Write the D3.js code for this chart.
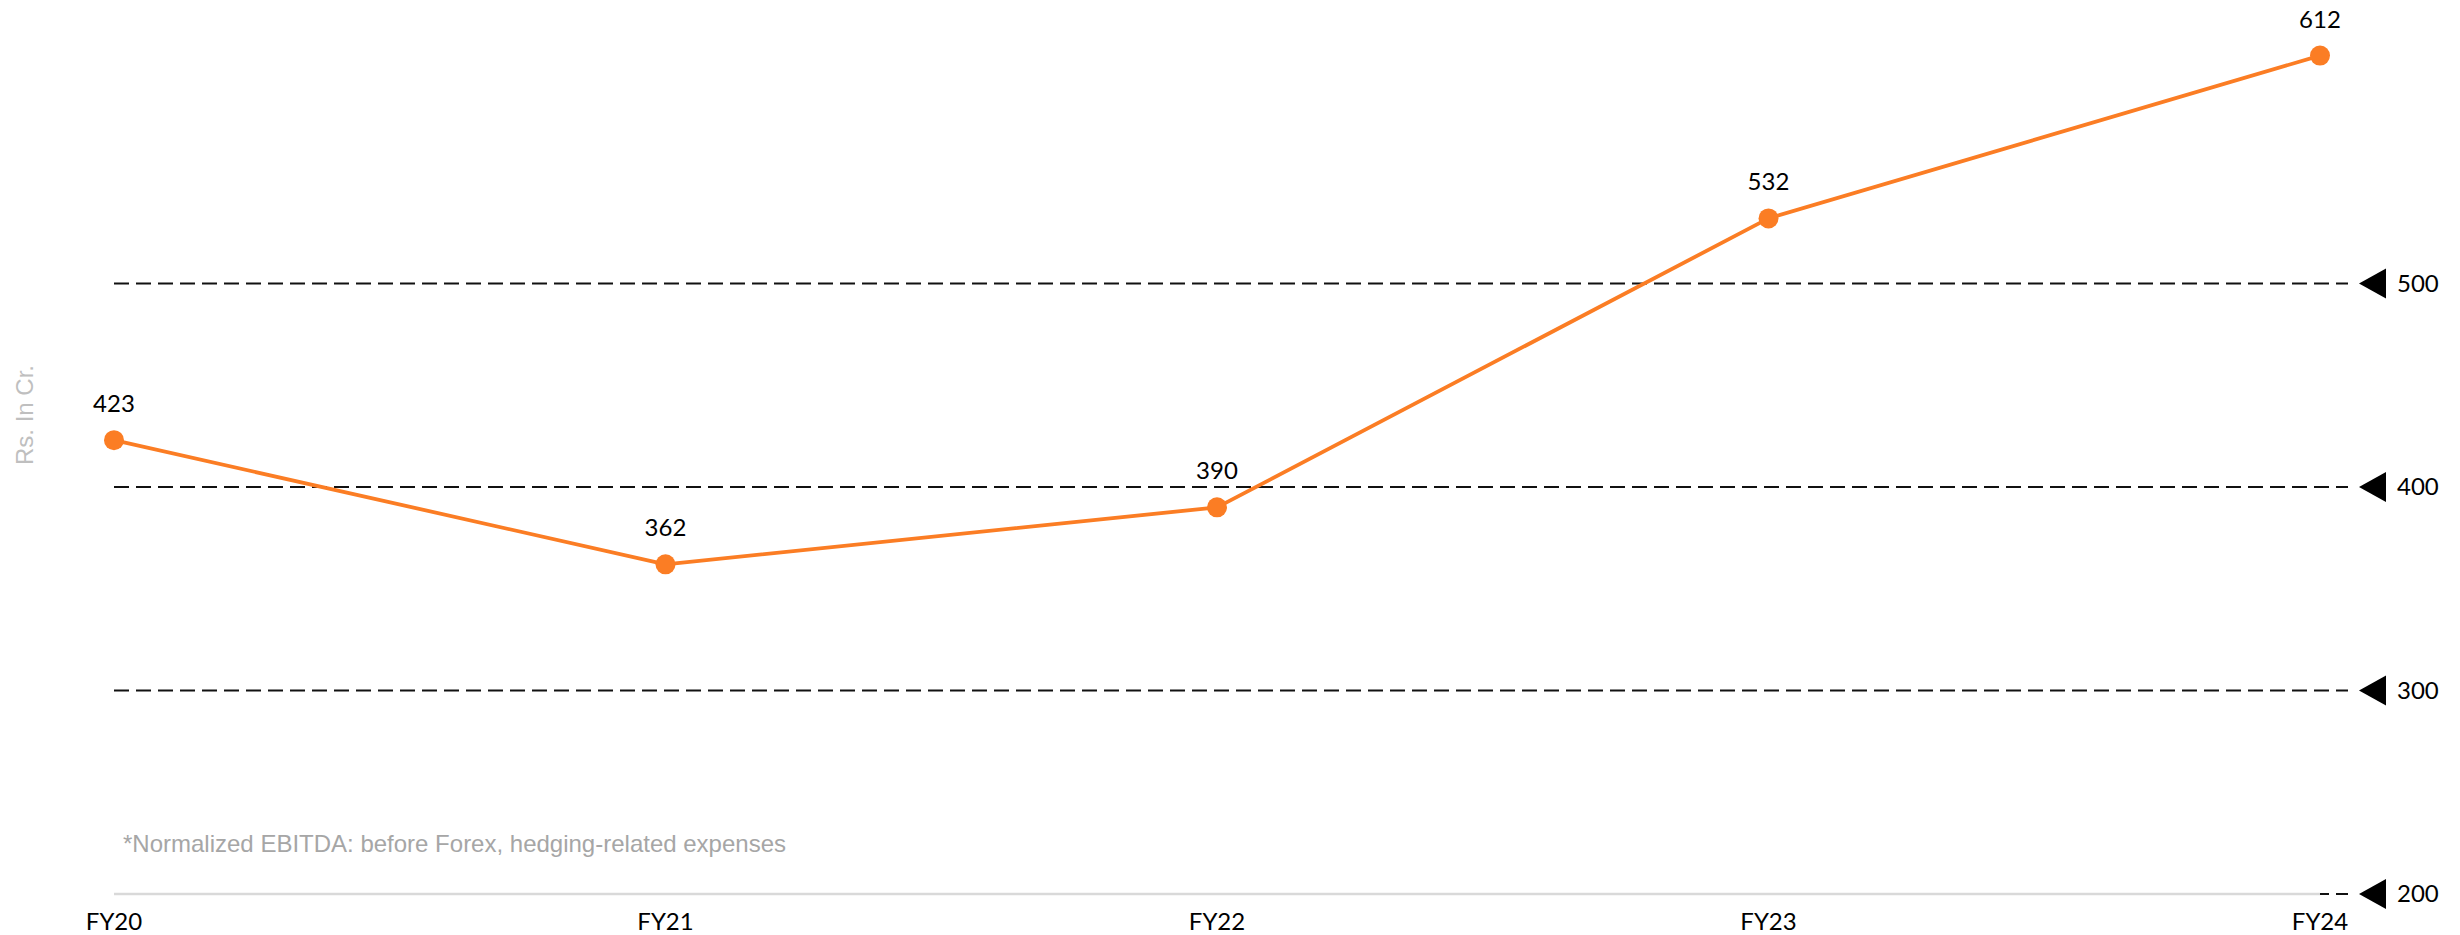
<!DOCTYPE html>
<html>
<head>
<meta charset="utf-8">
<script src="https://cdn.jsdelivr.net/npm/d3@7"></script>
<style>
  html, body { margin: 0; padding: 0; background: #fff; }
  svg { display: block; }
</style>
</head>
<body>
<script>
// Normalized EBITDA, Rs. in Crore
const years = ["FY20", "FY21", "FY22", "FY23", "FY24"];
const ebitda = [423, 362, 390, 532, 612];
const gridTicks = [200, 300, 400, 500];
const yLabel = "Rs. In Cr.";
const footnote = "*Normalized EBITDA: before Forex, hedging-related expenses";

const W = 2460, H = 935;
const orange = "#FB7D24";
const labelFont = "Lato, 'Open Sans', sans-serif";
const noteFont = "'Liberation Sans', Arial, sans-serif";

const svg = d3.select("body").append("svg")
  .attr("width", W).attr("height", H);

const x = d3.scalePoint().domain(years).range([114, 2320]);
const y = d3.scaleLinear().domain([200, 500]).range([894, 283.5]);

// dashed horizontal gridlines
svg.append("g").selectAll("line")
  .data(gridTicks)
  .join("line")
  .attr("x1", 114).attr("x2", 2348)
  .attr("y1", d => y(d)).attr("y2", d => y(d))
  .attr("stroke", "#111")
  .attr("stroke-width", 2)
  .attr("stroke-dasharray", "15,7");

// category axis along the bottom (covers the lowest gridline)
const xAxis = svg.append("g")
  .attr("transform", `translate(0,${y(200)})`)
  .call(d3.axisBottom(x).offset(0).tickSize(0).tickSizeOuter(0).tickPadding(19));
xAxis.select(".domain").attr("stroke", "#D9D9D9").attr("stroke-width", 2.5);
xAxis.selectAll("text")
  .attr("font-family", labelFont)
  .attr("font-size", 24)
  .attr("fill", "#000");

// value markers on the right: triangle pointers with labels
const marks = svg.append("g").selectAll("g")
  .data(gridTicks)
  .join("g")
  .attr("transform", d => `translate(2359,${y(d)})`);
marks.append("path")
  .attr("d", "M0,0 L27,-15 L27,15 Z")
  .attr("fill", "#000");
marks.append("text")
  .attr("x", 38)
  .attr("dy", "0.35em")
  .attr("font-family", labelFont)
  .attr("font-size", 24)
  .attr("fill", "#000")
  .text(d => d);

// EBITDA line
const line = d3.line()
  .x((d, i) => x(years[i]))
  .y(d => y(d));
svg.append("path")
  .datum(ebitda)
  .attr("d", line)
  .attr("fill", "none")
  .attr("stroke", orange)
  .attr("stroke-width", 3.8)
  .attr("stroke-linejoin", "round");

svg.append("g").selectAll("circle")
  .data(ebitda)
  .join("circle")
  .attr("cx", (d, i) => x(years[i]))
  .attr("cy", d => y(d))
  .attr("r", 10)
  .attr("fill", orange);

svg.append("g").selectAll("text")
  .data(ebitda)
  .join("text")
  .attr("x", (d, i) => x(years[i]))
  .attr("y", d => y(d) - 28)
  .attr("text-anchor", "middle")
  .attr("font-family", labelFont)
  .attr("font-size", 24)
  .attr("fill", "#000")
  .text(d => d);

// unit label
svg.append("text")
  .attr("transform", "translate(33,415) rotate(-90)")
  .attr("text-anchor", "middle")
  .attr("font-family", noteFont)
  .attr("font-size", 24)
  .attr("fill", "#BFBFBF")
  .text(yLabel);

// footnote
svg.append("text")
  .attr("x", 123)
  .attr("y", 852)
  .attr("font-family", noteFont)
  .attr("font-size", 24)
  .attr("fill", "#A6A6A6")
  .text(footnote);
</script>
</body>
</html>
